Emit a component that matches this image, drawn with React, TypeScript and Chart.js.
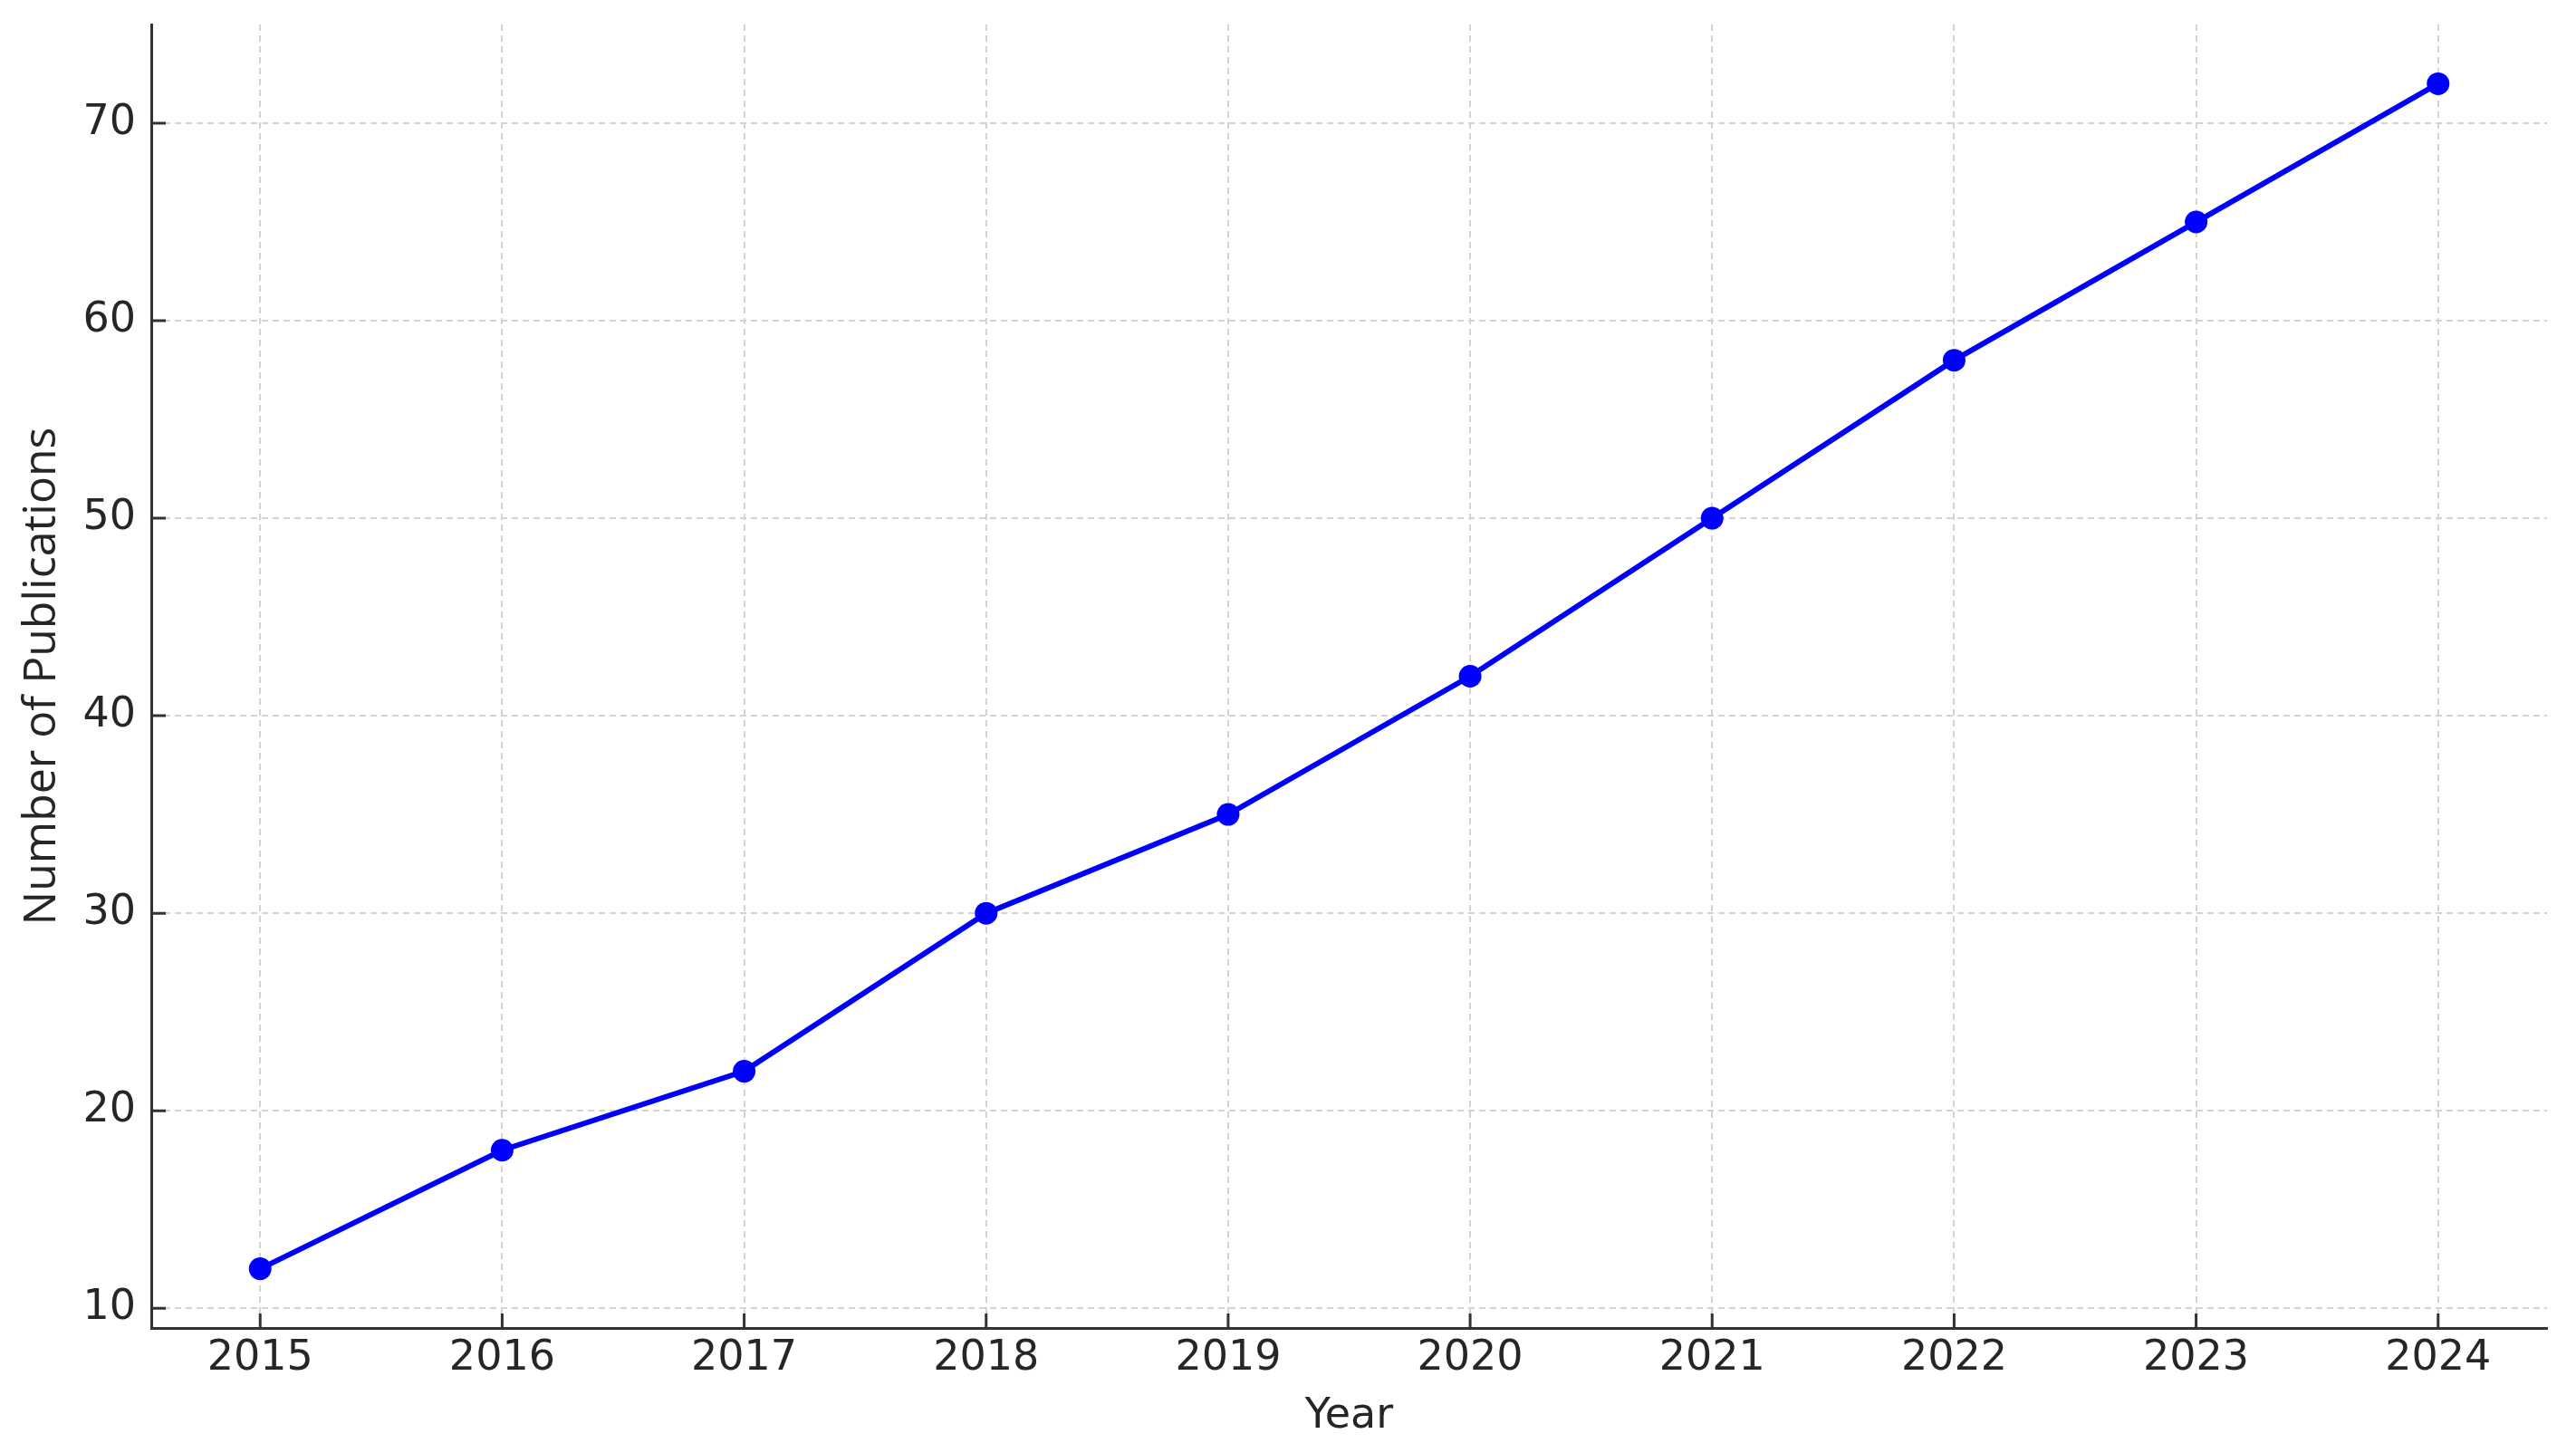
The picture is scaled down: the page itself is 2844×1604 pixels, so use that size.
import React, { useEffect, useRef } from "react";
import { Chart, registerables } from "chart.js";

Chart.register(...registerables);

const years = [2015, 2016, 2017, 2018, 2019, 2020, 2021, 2022, 2023, 2024];
const publications = [12, 18, 22, 30, 35, 42, 50, 58, 65, 72];
const yTickValues = [10, 20, 30, 40, 50, 60, 70];
const xTitle = "Year";
const yTitle = "Number of Publications";

const W = 2844;
const H = 1604;

export default function App() {
  const ref = useRef<HTMLCanvasElement>(null);

  useEffect(() => {
    const canvas = ref.current;
    if (!canvas) return;

    const inwardTicks = {
      id: "inwardTicks",
      afterDraw(chart: any) {
        const { ctx, chartArea, scales } = chart;
        ctx.save();
        ctx.strokeStyle = "#333333";
        ctx.lineWidth = 3;
        ctx.beginPath();
        scales.x.ticks.forEach((t: any) => {
          const x = scales.x.getPixelForValue(t.value);
          ctx.moveTo(x, chartArea.bottom);
          ctx.lineTo(x, chartArea.bottom - 16);
        });
        scales.y.ticks.forEach((t: any) => {
          const y = scales.y.getPixelForValue(t.value);
          ctx.moveTo(chartArea.left, y);
          ctx.lineTo(chartArea.left + 16, y);
        });
        ctx.stroke();
        ctx.restore();
      },
    };

    const chart = new Chart(canvas, {
      type: "line",
      data: {
        datasets: [
          {
            data: years.map((x, i) => ({ x, y: publications[i] })),
            borderColor: "#0000ff",
            backgroundColor: "#0000ff",
            borderWidth: 6,
            pointRadius: 12.5,
            pointBorderWidth: 0,
            pointBackgroundColor: "#0000ff",
            tension: 0,
          },
        ],
      },
      options: {
        responsive: false,
        animation: false,
        devicePixelRatio: 1,
        layout: { padding: { top: 27, right: 32, left: 0, bottom: 0 } },
        plugins: {
          legend: { display: false },
          tooltip: { enabled: false },
        },
        scales: {
          x: {
            type: "linear",
            min: 2014.55,
            max: 2024.45,
            afterBuildTicks: (s: any) => {
              s.ticks = years.map((v) => ({ value: v }));
            },
            afterFit: (s: any) => {
              s.height = 138;
              s.paddingLeft = 0;
              s.paddingRight = 0;
            },
            grid: { color: "#d3d3d3", lineWidth: 2, drawTicks: false },
            border: { display: true, color: "#333333", width: 3, dash: [7, 5] },
            ticks: {
              padding: 6,
              color: "#262626",
              autoSkip: false,
              maxRotation: 0,
              font: { family: "DejaVu Sans", size: 46, lineHeight: 1.2 },
              callback: (v: any) => String(v),
            },
            title: {
              display: true,
              text: xTitle,
              color: "#262626",
              font: { family: "DejaVu Sans", size: 46, lineHeight: 1.2 },
              padding: { top: 0, bottom: 12 },
            },
          },
          y: {
            type: "linear",
            min: 9,
            max: 75,
            afterBuildTicks: (s: any) => {
              s.ticks = yTickValues.map((v) => ({ value: v }));
            },
            afterFit: (s: any) => {
              s.width = 167;
              s.paddingTop = 0;
              s.paddingBottom = 0;
            },
            grid: { color: "#d3d3d3", lineWidth: 2, drawTicks: false },
            border: { display: true, color: "#333333", width: 3, dash: [7, 5] },
            ticks: {
              padding: 17,
              color: "#262626",
              font: { family: "DejaVu Sans", size: 46, lineHeight: 1.2 },
              callback: (v: any) => String(v),
            },
            title: {
              display: true,
              text: yTitle,
              color: "#262626",
              font: { family: "Open Sans", size: 50, lineHeight: 1.2 },
              padding: { top: 17, bottom: 0 },
            },
          },
        },
      },
      plugins: [inwardTicks],
    } as any);

    return () => chart.destroy();
  }, []);

  return (
    <div style={{ position: "absolute", left: 0, top: 0, width: W, height: H, background: "#ffffff" }}>
      <canvas ref={ref} width={W} height={H} style={{ width: W, height: H, display: "block" }} />
    </div>
  );
}
